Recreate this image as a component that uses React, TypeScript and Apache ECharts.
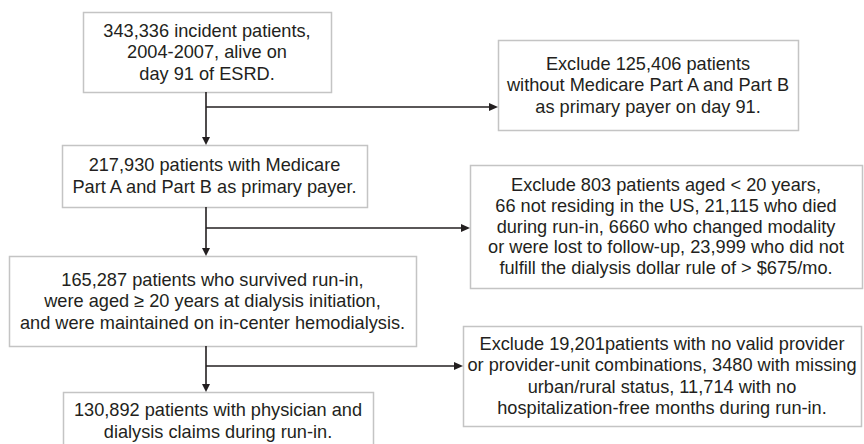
import React, { useEffect, useRef } from "react";
import * as echarts from "echarts";

// ---- Data: text of each flowchart box ----
const box1Lines = ["343,336 incident patients,", "2004-2007, alive on", "day 91 of ESRD."];
const box2Lines = ["Exclude 125,406 patients", "without Medicare Part A and Part B", "as primary payer on day 91."];
const box3Lines = ["217,930 patients with Medicare", "Part A and Part B as primary payer."];
const box4Lines = [
  "Exclude 803 patients aged < 20 years,",
  "66 not residing in the US, 21,115 who died",
  "during run-in, 6660 who changed modality",
  "or were lost to follow-up, 23,999 who did not",
  "fulfill the dialysis dollar rule of > $675/mo.",
];
const box5Lines = [
  "165,287 patients who survived run-in,",
  "were aged \u2265 20 years at dialysis initiation,",
  "and were maintained on in-center hemodialysis.",
];
const box6Lines = [
  "Exclude 19,201patients with no valid provider",
  "or provider-unit combinations, 3480 with missing",
  "urban/rural status, 11,714 with no",
  "hospitalization-free months during run-in.",
];
const box7Lines = ["130,892 patients with physician and", "dialysis claims during run-in."];

// ---- Layout (positions / sizes) ----
const boxLayout = [
  { lines: box1Lines, x: 83, y: 12, w: 248, h: 80, lh: 21.5 },
  { lines: box2Lines, x: 498, y: 40, w: 300, h: 90, lh: 21.5 },
  { lines: box3Lines, x: 62, y: 145, w: 305, h: 62, lh: 21.5 },
  { lines: box4Lines, x: 470, y: 165, w: 392, h: 123, lh: 20.8 },
  { lines: box5Lines, x: 9, y: 256, w: 407, h: 90, lh: 21.5 },
  { lines: box6Lines, x: 463, y: 326, w: 398, h: 100, lh: 21.5 },
  { lines: box7Lines, x: 63, y: 392, w: 310, h: 58, lh: 21.5 },
];

const spineX = 206;
const verticalArrows = [
  { y1: 92, y2: 145 },
  { y1: 207, y2: 256 },
  { y1: 346, y2: 392 },
];
const horizontalArrows = [
  { y: 107, x2: 498 },
  { y: 228, x2: 470 },
  { y: 366, x2: 463 },
];

const LINE = "#231f20";
const BORDER = "#c4c4c4";
const FONT = "'Liberation Sans', Arial, Helvetica, sans-serif";

export default function App() {
  const ref = useRef<HTMLDivElement>(null);
  useEffect(() => {
    if (!ref.current) return;
    const chart = echarts.init(ref.current, undefined, { renderer: "svg" });
    const elements: any[] = [];
    boxLayout.forEach((b) => {
      elements.push({
        type: "rect",
        shape: { x: b.x + 0.5, y: b.y + 0.5, width: b.w, height: b.h },
        style: { fill: "#ffffff", stroke: BORDER, lineWidth: 1.5 },
      });
      elements.push({
        type: "text",
        x: b.x + b.w / 2,
        y: b.y + b.h / 2,
        style: {
          text: b.lines.join("\n"),
          fill: LINE,
          font: `18.2px ${FONT}`,
          align: "center",
          verticalAlign: "middle",
          lineHeight: b.lh,
        },
      });
    });
    verticalArrows.forEach((a) => {
      elements.push({
        type: "line",
        shape: { x1: spineX, y1: a.y1, x2: spineX, y2: a.y2 - 6 },
        style: { stroke: LINE, lineWidth: 1.6 },
      });
      elements.push({
        type: "polygon",
        shape: { points: [[spineX - 4, a.y2 - 8], [spineX + 4, a.y2 - 8], [spineX, a.y2]] },
        style: { fill: LINE },
      });
    });
    horizontalArrows.forEach((a) => {
      elements.push({
        type: "line",
        shape: { x1: spineX, y1: a.y, x2: a.x2 - 6, y2: a.y },
        style: { stroke: LINE, lineWidth: 1.6 },
      });
      elements.push({
        type: "polygon",
        shape: { points: [[a.x2 - 9, a.y - 4], [a.x2 - 9, a.y + 4], [a.x2, a.y]] },
        style: { fill: LINE },
      });
    });
    chart.setOption({
      animation: false,
      backgroundColor: "#ffffff",
      graphic: { elements },
    });
    return () => chart.dispose();
  }, []);
  return (
    <div
      ref={ref}
      style={{ position: "fixed", left: 0, top: 0, width: 864, height: 444, background: "#fff" }}
    />
  );
}
